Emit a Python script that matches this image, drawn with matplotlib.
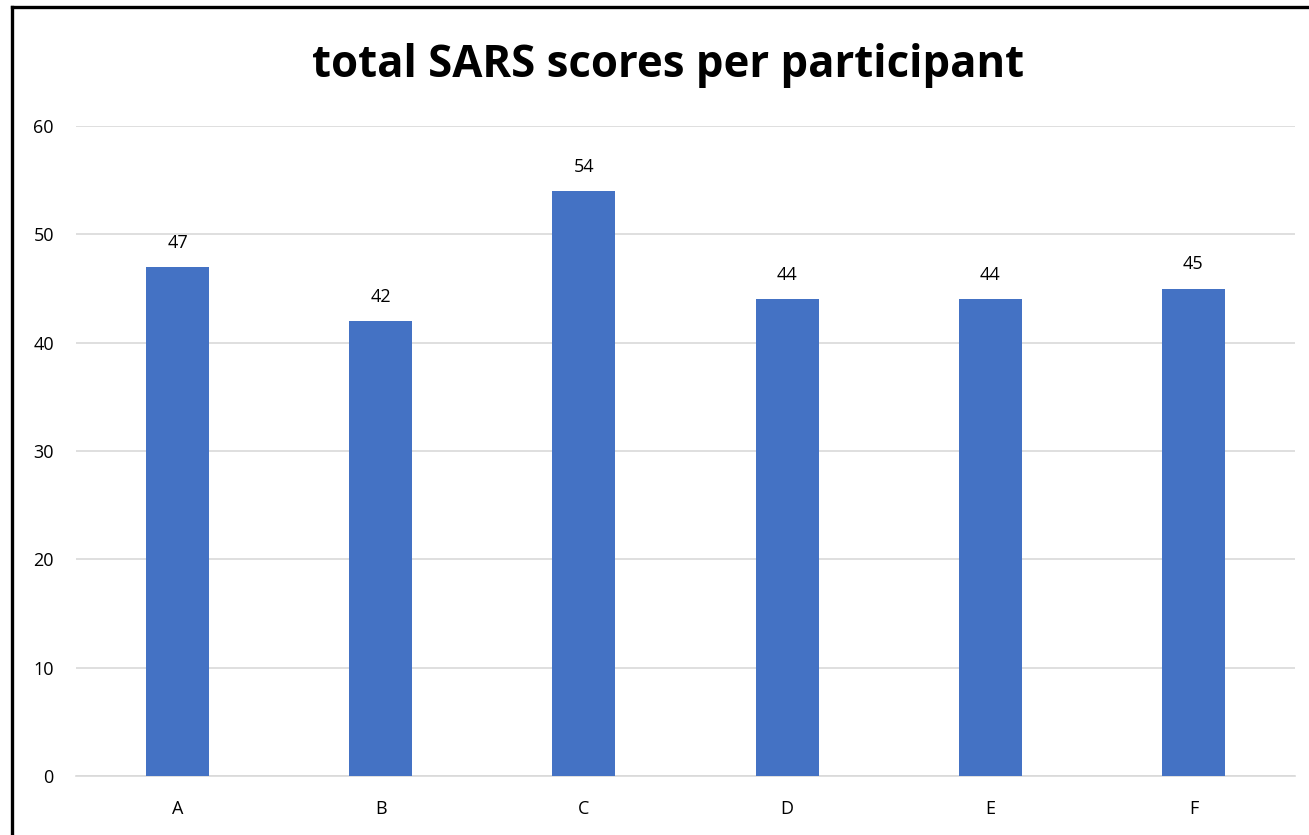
#!/usr/bin/env python3

"""bar chart of total SARS scores per participant"""

import matplotlib

matplotlib.use("Agg")
import matplotlib.pyplot as plt
from matplotlib.lines import Line2D

participants = ["A", "B", "C", "D", "E", "F"]
scores = [47, 42, 54, 44, 44, 45]
y_ticks = [0, 10, 20, 30, 40, 50, 60]

BAR_COLOR = "#4472C4"
GRID_COLOR = "#D9D9D9"


def main() -> None:
    """Draw and save the chart"""
    plt.rcParams["font.family"] = ["Open Sans", "DejaVu Sans"]
    fig = plt.figure(figsize=(13.09, 8.35), dpi=100)
    ax = fig.add_axes((0.0581, 0.0707, 0.9312, 0.7783))

    x = range(len(participants))
    bars = ax.bar(x, scores, width=0.31, color=BAR_COLOR, zorder=3)
    ax.bar_label(bars, labels=[str(s) for s in scores], padding=11, fontsize=13)

    ax.set_xlim(-0.5, len(participants) - 0.5)
    ax.set_ylim(0, 60)
    ax.set_xticks(list(x))
    ax.set_xticklabels(participants, fontsize=13)
    ax.set_yticks(y_ticks)
    ax.set_yticklabels([str(t) for t in y_ticks], fontsize=13)
    ax.tick_params(axis="x", length=0, pad=17)
    ax.tick_params(axis="y", length=0, pad=16)

    ax.grid(axis="y", color=GRID_COLOR, linewidth=1.2, zorder=0)
    for side in ("top", "right", "left"):
        ax.spines[side].set_visible(False)
    ax.spines["bottom"].set_color(GRID_COLOR)
    ax.spines["bottom"].set_linewidth(1.2)

    fig.text(0.51, 0.922, "total SARS scores per participant",
             ha="center", va="center", fontsize=31.5, fontweight="bold")

    # outer chart frame (only left and top edges visible)
    fig.add_artist(Line2D([12 / 1309, 12 / 1309], [0, 1 - 7 / 835],
                          transform=fig.transFigure, color="black", linewidth=2.4))
    fig.add_artist(Line2D([12 / 1309, 1], [1 - 7 / 835, 1 - 7 / 835],
                          transform=fig.transFigure, color="black", linewidth=2.4))

    fig.savefig("out.png", dpi=100)


if __name__ == "__main__":
    main()
